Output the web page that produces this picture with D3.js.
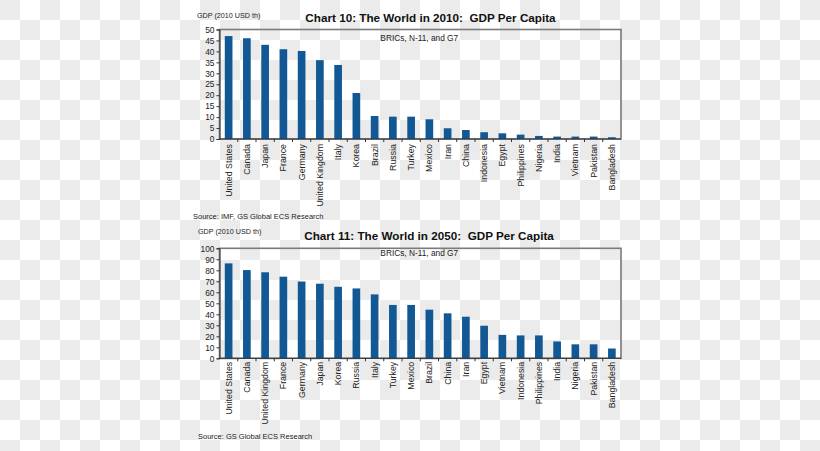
<!DOCTYPE html>
<html>
<head>
<meta charset="utf-8">
<script src="https://cdn.jsdelivr.net/npm/d3@7"></script>
<style>
  html, body { margin: 0; padding: 0; background: #fff; }
  svg { display: block; font-family: "Liberation Sans", Arial, sans-serif; }
</style>
</head>
<body>
<svg id="chart" width="820" height="451"></svg>
<script>
// ---- Data ----
const countries2010 = ["United States","Canada","Japan","France","Germany","United Kingdom","Italy","Korea","Brazil","Russia","Turkey","Mexico","Iran","China","Indonesia","Egypt","Philippines","Nigeria","India","Vietnam","Pakistan","Bangladesh"];
const gdp2010 = [47, 46, 43, 41, 40.2, 36, 33.8, 21, 10.5, 10.2, 10.2, 9, 4.9, 4.1, 3.1, 2.6, 2, 1.4, 1.1, 1.1, 1.1, 0.8];
const ticks2010 = [0,5,10,15,20,25,30,35,40,45,50];

const countries2050 = ["United States","Canada","United Kingdom","France","Germany","Japan","Korea","Russia","Italy","Turkey","Mexico","Brazil","China","Iran","Egypt","Vietnam","Indonesia","Philippines","India","Nigeria","Pakistan","Bangladesh"];
const gdp2050 = [86.3, 80.2, 78.2, 74.2, 69.8, 67.8, 65, 63.5, 58.1, 48.5, 48.5, 44.2, 40.9, 37.8, 29.6, 21.3, 20.8, 20.8, 15.3, 12.7, 12.7, 8.9];
const ticks2050 = [0,10,20,30,40,50,60,70,80,90,100];

const titles = ["Chart 10: The World in 2010:  GDP Per Capita", "Chart 11: The World in 2050:  GDP Per Capita"];
const subtitle = "BRICs, N-11, and G7";
const unitLabel = "GDP (2010 USD th)";
const sources = ["Source: IMF, GS Global ECS Research", "Source: GS Global ECS Research"];

// ---- Drawing ----
const svg = d3.select("#chart");
const barColor = "#115894";

// checkerboard background
const defs = svg.append("defs");
const pat = defs.append("pattern").attr("id","checker").attr("width",40).attr("height",40).attr("patternUnits","userSpaceOnUse");
pat.append("rect").attr("width",40).attr("height",40).attr("fill","#ffffff");
pat.append("rect").attr("x",0).attr("y",0).attr("width",20).attr("height",20).attr("fill","#ebebeb");
pat.append("rect").attr("x",20).attr("y",20).attr("width",20).attr("height",20).attr("fill","#ebebeb");
svg.append("rect").attr("width",820).attr("height",451).attr("fill","url(#checker)");

function drawChart(cfg) {
  const g = svg.append("g");
  const x = d3.scaleBand().domain(cfg.cats).range([cfg.left, cfg.right]).paddingInner(0.58).paddingOuter(0.29);
  const xb = d3.scaleBand().domain(cfg.cats).range([cfg.left, cfg.right]);
  const y = d3.scaleLinear().domain([0, cfg.max]).range([cfg.bottom, cfg.top]);

  // frame
  g.append("rect")
    .attr("x", cfg.left).attr("y", cfg.top)
    .attr("width", cfg.right - cfg.left).attr("height", cfg.bottom - cfg.top)
    .attr("fill","none").attr("stroke","#7a7a7a").attr("stroke-width",1.6);

  // bars
  g.selectAll("rect.bar").data(cfg.vals).enter().append("rect")
    .attr("class","bar")
    .attr("x", (d,i) => x(cfg.cats[i]))
    .attr("width", x.bandwidth())
    .attr("y", d => y(d))
    .attr("height", d => y(0) - y(d))
    .attr("fill", barColor);

  // y axis
  const yAxis = d3.axisLeft(y).tickValues(cfg.ticks).tickSize(3).tickPadding(2).tickFormat(d3.format("d"));
  const ya = g.append("g").attr("transform", `translate(${cfg.left},0)`).call(yAxis);
  ya.select(".domain").attr("stroke","#333").attr("stroke-width",1);
  ya.selectAll(".tick line").attr("stroke","#333");
  ya.selectAll("text").attr("font-size", 8.4).attr("fill","#222").attr("font-family","Liberation Sans, Arial, sans-serif");

  // x axis line + category ticks between bars
  g.append("line").attr("x1",cfg.left).attr("x2",cfg.right).attr("y1",cfg.bottom).attr("y2",cfg.bottom).attr("stroke","#333");
  g.selectAll("line.ct").data(cfg.cats.slice(1)).enter().append("line")
    .attr("class","ct")
    .attr("x1", d => xb(d)).attr("x2", d => xb(d))
    .attr("y1", cfg.bottom).attr("y2", cfg.bottom + 3)
    .attr("stroke","#333");

  // x labels rotated
  g.selectAll("text.xl").data(cfg.cats).enter().append("text")
    .attr("class","xl")
    .attr("transform", d => `translate(${xb(d) + xb.bandwidth()/2},${cfg.bottom + cfg.labelGap}) rotate(-90)`)
    .attr("text-anchor","end")
    .attr("dy","0.35em")
    .attr("font-size", 8.8)
    .attr("fill","#222")
    .text(d => d);

  // unit label
  g.append("text").attr("x", cfg.unitX).attr("y", cfg.unitY)
    .attr("font-size", 7.2).attr("fill","#222").text(unitLabel);

  // title
  g.append("text").attr("x", cfg.titleX).attr("y", cfg.titleY)
    .attr("text-anchor","middle").attr("font-size", 11.7).attr("font-weight","bold")
    .attr("fill","#111").style("white-space","pre").text(cfg.title);

  // subtitle
  g.append("text").attr("x", (cfg.left + cfg.right)/2 - 1).attr("y", cfg.subY)
    .attr("text-anchor","middle").attr("font-size", 8.3).attr("fill","#222").text(subtitle);

  // source
  g.append("text").attr("x", cfg.srcX).attr("y", cfg.srcY)
    .attr("font-size", 7.5).attr("fill","#222").text(cfg.source);
}

drawChart({
  cats: countries2010, vals: gdp2010, ticks: ticks2010, max: 50,
  left: 219.5, right: 621, top: 29.5, bottom: 139,
  labelGap: 5, unitX: 197, unitY: 17.5, titleX: 430.5, titleY: 22.3,
  title: titles[0], subY: 41, srcX: 193, srcY: 218.5, source: sources[0]
});

drawChart({
  cats: countries2050, vals: gdp2050, ticks: ticks2050, max: 100,
  left: 219.5, right: 621, top: 248.3, bottom: 358.3,
  labelGap: 3.5, unitX: 198, unitY: 234, titleX: 429, titleY: 240,
  title: titles[1], subY: 256, srcX: 198, srcY: 438.5, source: sources[1]
});
</script>
</body>
</html>
